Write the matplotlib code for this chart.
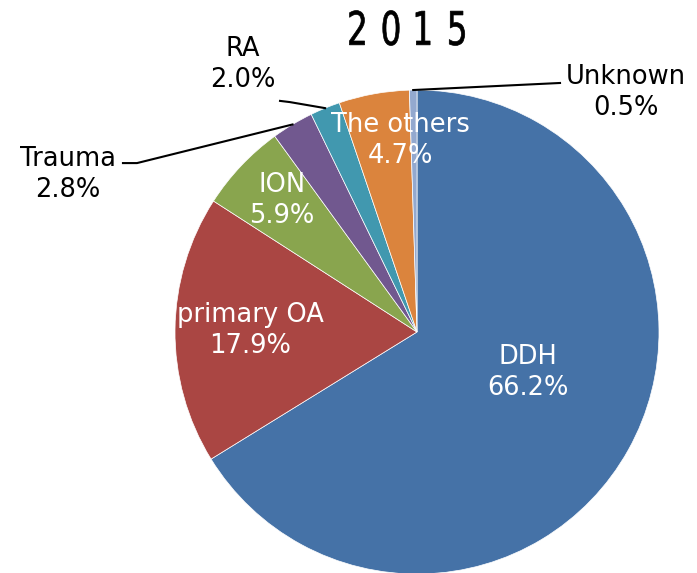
import matplotlib.pyplot as plt
import numpy as np
from matplotlib.textpath import TextPath
from matplotlib.patches import PathPatch
from matplotlib.font_manager import FontProperties
from matplotlib.transforms import Affine2D, IdentityTransform

labels = ['DDH', 'primary OA', 'ION', 'Trauma', 'RA', 'The others', 'Unknown']
values = [66.2, 17.9, 5.9, 2.8, 2.0, 4.7, 0.5]
colors = ['#4572A7', '#AA4643', '#89A54E', '#71588F', '#4198AF', '#DB843D', '#93A9CF']
title = '2015'

# label centres (data units, pie radius = 1)
label_pos = [(0.459, -0.169), (-0.690, 0.008), (-0.558, 0.545), (-1.442, 0.649),
             (-0.719, 1.107), (-0.070, 0.793), (0.864, 0.988)]
outside = ['Trauma', 'RA', 'Unknown']
# leader-line text end + elbow, the wedge end is taken from the pie
leaders = {'Unknown': [(0.591, 1.029)],
           'RA': [(-0.566, 0.955), (-0.525, 0.950)],
           'Trauma': [(-1.215, 0.698), (-1.157, 0.698)]}

W, H = 697, 573
cx, cy, R = 417, 332, 242
fig = plt.figure(figsize=(W / 100, H / 100), dpi=100)
ax = fig.add_axes([0, 0, 1, 1])
ax.axis('off')

wedges, _ = ax.pie(values, colors=colors, startangle=90, counterclock=False,
                   radius=1, center=(0, 0),
                   wedgeprops=dict(edgecolor='white', linewidth=0.5))
ax.set_xlim(-cx / R, (W - cx) / R)
ax.set_ylim(-(H - cy) / R, cy / R)

font = 'DejaVu Sans'
for w, lab, v, pos in zip(wedges, labels, values, label_pos):
    col = 'black' if lab in outside else 'white'
    ax.text(pos[0], pos[1], '%s\n%.1f%%' % (lab, v), ha='center', va='center',
            color=col, fontsize=18.5, family=font, linespacing=1.25)
    if lab in leaders:
        ang = np.deg2rad((w.theta1 + w.theta2) / 2)
        pts = leaders[lab] + [(np.cos(ang), np.sin(ang))]
        xs, ys = zip(*pts)
        ax.plot(xs, ys, color='black', lw=1.5)

# title: narrow, widely spaced digits (squeezed glyph outlines, pixel coords)
prop = FontProperties(family='DejaVu Sans')
ref = TextPath((0, 0), '0', size=48, prop=prop).get_extents()
sx, sy = 16.5 / ref.width, 35 / ref.height
digit_x = [357, 391, 423, 457]
for ch, x in zip(title, digit_x):
    tp = TextPath((0, 0), ch, size=48, prop=prop)
    e = tp.get_extents()
    tr = (Affine2D().translate(-(e.x0 + e.width / 2), -(ref.y0 + ref.height / 2))
          .scale(sx, sy).translate(x, H - 28))
    fig.add_artist(PathPatch(tr.transform_path(tp), facecolor='black',
                             edgecolor='black', lw=0.5,
                             transform=IdentityTransform()))

fig.savefig('out.png', dpi=100)
